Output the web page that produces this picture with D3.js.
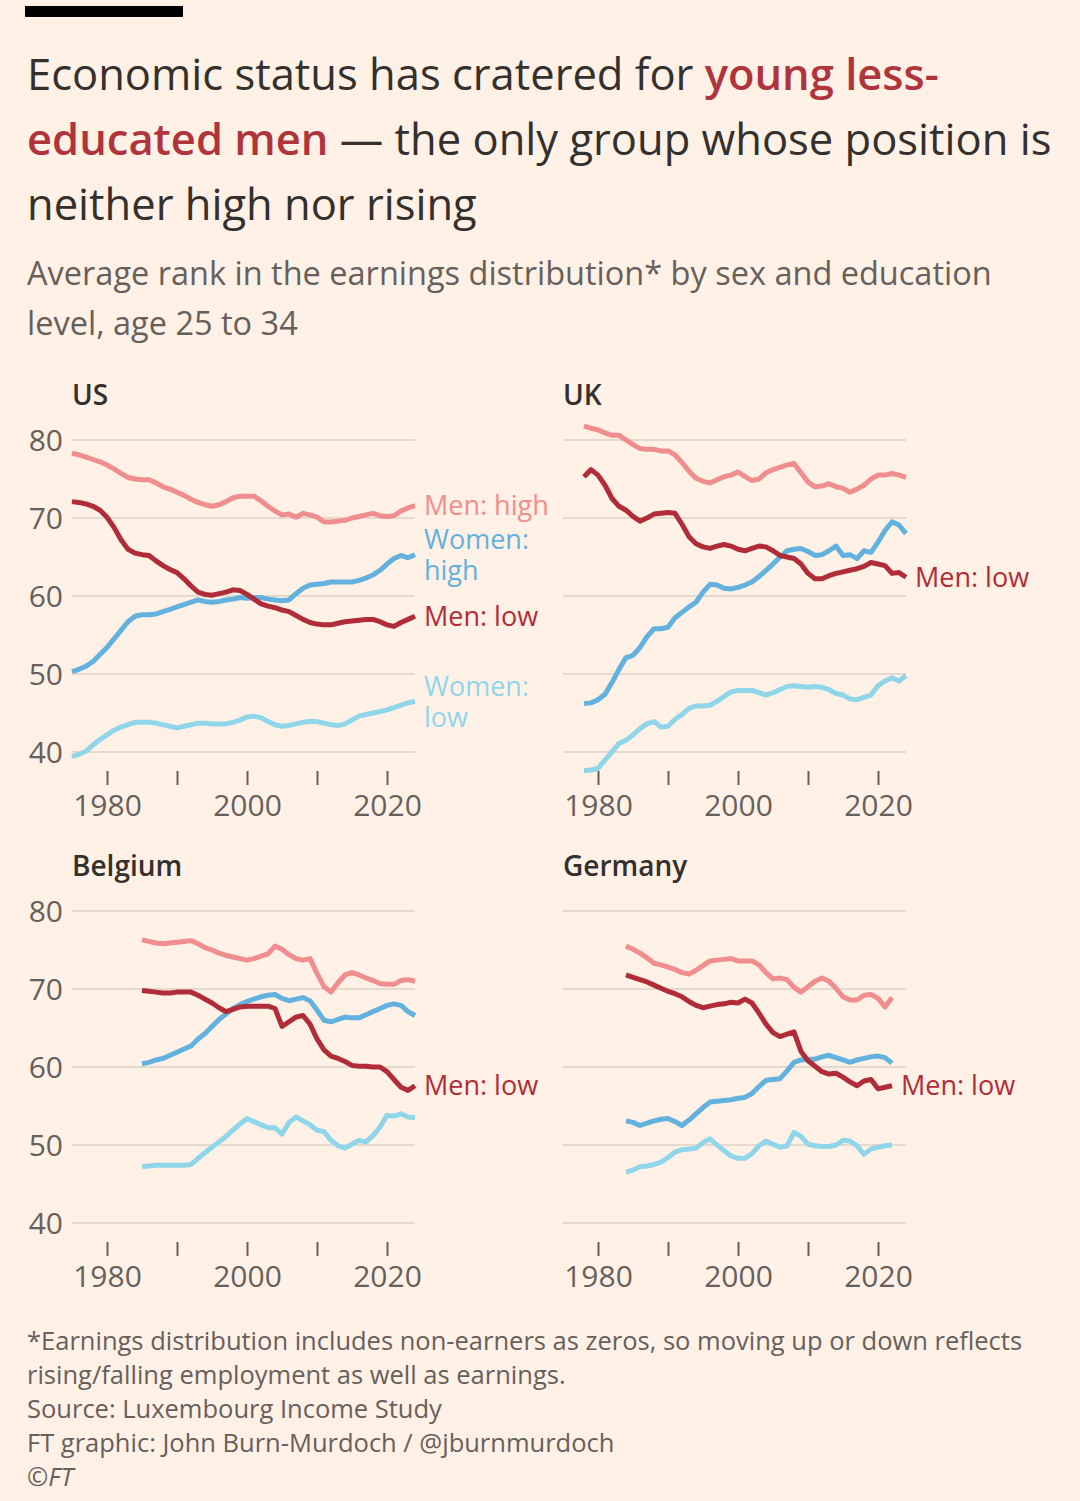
<!DOCTYPE html>
<html>
<head>
<meta charset="utf-8">
<script src="https://cdn.jsdelivr.net/npm/d3@7"></script>
<style>
  html, body { margin: 0; padding: 0; background: #FFF1E5; }
  svg { display: block; }
  text { font-family: "Open Sans", "Noto Sans", sans-serif; }
</style>
</head>
<body>
<div id="chart"></div>
<script>
// ---- data ----
const yTicks = [40, 50, 60, 70, 80];
const xTicks = [1980, 1990, 2000, 2010, 2020];
const xLabelled = [1980, 2000, 2020];

const usStart = 1975;
const usMenHigh = [78.3,78.1,77.8,77.5,77.2,76.8,76.3,75.7,75.2,75.0,74.9,74.9,74.5,74.0,73.7,73.3,72.9,72.4,72.0,71.7,71.5,71.7,72.1,72.6,72.8,72.8,72.8,72.2,71.5,70.9,70.4,70.5,70.1,70.6,70.4,70.1,69.5,69.5,69.6,69.7,70.0,70.2,70.4,70.6,70.3,70.2,70.3,70.9,71.3,71.6];
const usMenLow = [72.1,72.0,71.8,71.5,71.0,70.1,68.8,67.2,66.0,65.5,65.3,65.2,64.5,63.9,63.4,63.0,62.2,61.3,60.5,60.2,60.1,60.3,60.5,60.8,60.7,60.2,59.6,59.0,58.7,58.5,58.2,58.0,57.5,57.0,56.6,56.4,56.3,56.3,56.5,56.7,56.8,56.9,57.0,57.0,56.7,56.3,56.1,56.6,57.0,57.4];
const usWomenHigh = [50.3,50.6,51.0,51.6,52.5,53.4,54.5,55.6,56.7,57.4,57.6,57.6,57.7,58.0,58.3,58.6,58.9,59.2,59.5,59.3,59.2,59.3,59.5,59.6,59.8,59.7,59.8,59.8,59.6,59.5,59.4,59.5,60.3,61.0,61.4,61.5,61.6,61.8,61.8,61.8,61.8,62.0,62.3,62.7,63.3,64.1,64.8,65.2,64.9,65.3];
const usWomenLow = [39.4,39.7,40.1,40.9,41.6,42.2,42.8,43.2,43.5,43.8,43.8,43.8,43.7,43.5,43.3,43.1,43.3,43.5,43.7,43.7,43.6,43.6,43.6,43.8,44.1,44.5,44.6,44.4,43.9,43.5,43.3,43.4,43.6,43.8,43.9,43.9,43.7,43.5,43.4,43.6,44.1,44.6,44.8,45.0,45.2,45.4,45.7,46.0,46.3,46.5];

const ukStart = 1978;
const ukMenHigh = [81.8,81.5,81.3,80.9,80.6,80.6,80.0,79.4,78.9,78.8,78.8,78.6,78.6,78.1,77.1,76.0,75.1,74.7,74.5,74.9,75.3,75.5,75.9,75.3,74.8,75.0,75.8,76.2,76.5,76.8,77.0,75.8,74.6,74.0,74.1,74.4,74.0,73.8,73.3,73.7,74.2,75.0,75.5,75.5,75.7,75.5,75.2];
const ukMenLow = [75.3,76.2,75.5,74.2,72.5,71.5,71.0,70.2,69.6,70.0,70.5,70.6,70.7,70.6,69.2,67.6,66.7,66.3,66.1,66.4,66.6,66.4,66.0,65.8,66.1,66.4,66.3,65.8,65.2,65.0,64.8,64.1,62.9,62.2,62.2,62.6,62.9,63.1,63.3,63.5,63.8,64.3,64.1,63.9,62.9,63.0,62.4];
const ukWomenHigh = [46.2,46.3,46.7,47.4,48.9,50.6,52.1,52.4,53.4,54.8,55.8,55.8,56.0,57.2,57.9,58.6,59.2,60.5,61.5,61.4,61.0,60.9,61.1,61.4,61.8,62.5,63.3,64.1,65.0,65.8,66.0,66.1,65.7,65.2,65.3,65.8,66.4,65.2,65.3,64.8,65.8,65.6,66.9,68.4,69.5,69.1,68.0];
const ukWomenLow = [37.6,37.7,37.9,39.0,40.0,41.1,41.5,42.2,43.0,43.6,43.9,43.2,43.3,44.2,44.8,45.6,45.9,45.9,46.0,46.5,47.1,47.7,47.9,47.9,47.9,47.6,47.3,47.6,48.0,48.4,48.5,48.4,48.3,48.4,48.3,48.0,47.5,47.3,46.8,46.7,47.0,47.3,48.5,49.1,49.5,49.1,49.8];

const beStart = 1985;
const beMenHigh = [76.3,76.1,75.9,75.8,75.9,76.0,76.1,76.2,75.8,75.3,75.0,74.6,74.3,74.1,73.9,73.7,73.9,74.2,74.5,75.5,75.1,74.4,73.9,73.7,73.9,72.0,70.3,69.6,70.8,71.8,72.1,71.8,71.4,71.1,70.7,70.6,70.6,71.1,71.2,71.0];
const beMenLow = [69.8,69.7,69.6,69.5,69.5,69.6,69.6,69.6,69.2,68.7,68.2,67.6,67.1,67.4,67.7,67.8,67.8,67.8,67.8,67.5,65.2,65.8,66.4,66.6,65.5,63.6,62.2,61.4,61.1,60.7,60.2,60.1,60.1,60.0,60.0,59.4,58.4,57.4,57.0,57.6];
const beWomenHigh = [60.4,60.6,60.9,61.1,61.5,61.9,62.3,62.7,63.6,64.3,65.2,66.1,66.8,67.5,68.0,68.4,68.7,69.0,69.2,69.3,68.8,68.5,68.7,68.9,68.5,67.3,66.0,65.8,66.1,66.4,66.3,66.3,66.7,67.1,67.5,67.9,68.1,67.9,67.1,66.6];
const beWomenLow = [47.2,47.3,47.4,47.4,47.4,47.4,47.4,47.5,48.3,49.0,49.7,50.4,51.1,51.9,52.7,53.4,53.0,52.6,52.2,52.2,51.4,52.9,53.6,53.1,52.6,51.9,51.7,50.6,49.9,49.6,50.1,50.6,50.4,51.2,52.3,53.8,53.7,54.0,53.6,53.5];

const deStart = 1984;
const deMenHigh = [75.5,75.1,74.6,74.0,73.3,73.1,72.8,72.5,72.1,71.9,72.4,73.0,73.6,73.7,73.8,73.9,73.6,73.6,73.6,73.1,72.1,71.3,71.4,71.2,70.2,69.6,70.3,71.0,71.4,71.0,70.1,69.0,68.6,68.6,69.2,69.3,68.8,67.7,68.9];
const deMenLow = [71.8,71.5,71.2,70.9,70.5,70.1,69.7,69.4,69.0,68.4,67.9,67.6,67.8,68.0,68.1,68.3,68.2,68.7,68.2,66.9,65.5,64.4,63.9,64.2,64.5,62.0,60.8,60.1,59.4,59.1,59.2,58.7,58.1,57.6,58.2,58.4,57.2,57.4,57.6];
const deWomenHigh = [53.1,52.9,52.5,52.8,53.1,53.3,53.4,53.0,52.5,53.2,54.0,54.8,55.5,55.6,55.7,55.8,56.0,56.1,56.6,57.5,58.3,58.4,58.5,59.5,60.6,60.9,61.0,61.0,61.3,61.5,61.2,60.9,60.6,60.9,61.1,61.3,61.4,61.2,60.5];
const deWomenLow = [46.5,46.8,47.2,47.3,47.5,47.8,48.4,49.1,49.4,49.5,49.6,50.3,50.8,50.0,49.3,48.6,48.3,48.3,48.9,49.9,50.5,50.1,49.7,49.9,51.6,51.1,50.1,49.9,49.8,49.8,50.0,50.6,50.5,49.9,48.8,49.5,49.7,49.9,50.0];

const seriesStyle = {
  womenLow:  { color: "#8FD6EA", label: ["Women:", "low"] },
  womenHigh: { color: "#62B1DE", label: ["Women:", "high"] },
  menHigh:   { color: "#F08D8E", label: ["Men: high"] },
  menLow:    { color: "#B02C38", label: ["Men: low"] }
};

const countries = [
  { name: "US", start: usStart, series: { womenLow: usWomenLow, womenHigh: usWomenHigh, menHigh: usMenHigh, menLow: usMenLow }, labels: ["womenLow", "womenHigh", "menHigh", "menLow"], col: 0, row: 0 },
  { name: "UK", start: ukStart, series: { womenLow: ukWomenLow, womenHigh: ukWomenHigh, menHigh: ukMenHigh, menLow: ukMenLow }, labels: ["menLow"], col: 1, row: 0 },
  { name: "Belgium", start: beStart, series: { womenLow: beWomenLow, womenHigh: beWomenHigh, menHigh: beMenHigh, menLow: beMenLow }, labels: ["menLow"], col: 0, row: 1 },
  { name: "Germany", start: deStart, series: { womenLow: deWomenLow, womenHigh: deWomenHigh, menHigh: deMenHigh, menLow: deMenLow }, labels: ["menLow"], col: 1, row: 1 }
];

// ---- layout ----
const width = 1080, height = 1501;
const colLeft = [72, 563];
const plotW = 343;
const rowTop = [440, 911];
const plotH = 312;
const dark = "#33302E", grey = "#66605C", red = "#B0343C";

const svg = d3.select("#chart").append("svg")
  .attr("width", width).attr("height", height)
  .attr("viewBox", [0, 0, width, height]);

svg.append("rect").attr("width", width).attr("height", height).attr("fill", "#FFF1E5");

// FT bar
svg.append("rect").attr("x", 25).attr("y", 6).attr("width", 158).attr("height", 11).attr("fill", "#000");

// Title
const title = svg.append("text").attr("fill", dark).style("font-size", "43.5px");
const tl1 = title.append("tspan").attr("x", 27).attr("y", 90);
tl1.append("tspan").text("Economic status has cratered for ");
tl1.append("tspan").attr("fill", red).style("font-weight", 600).text("young less-");
const tl2 = title.append("tspan").attr("x", 27).attr("y", 155);
tl2.append("tspan").attr("fill", red).style("font-weight", 600).text("educated men");
tl2.append("tspan").text(" \u2014 the only group whose position is");
title.append("tspan").attr("x", 27).attr("y", 220).text("neither high nor rising");

// Subtitle
const sub = svg.append("text").attr("fill", grey).style("font-size", "32.5px");
sub.append("tspan").attr("x", 27).attr("y", 285).text("Average rank in the earnings distribution* by sex and education");
sub.append("tspan").attr("x", 27).attr("y", 335).text("level, age 25 to 34");

// Panels
countries.forEach(c => {
  const left = colLeft[c.col];
  const top = rowTop[c.row];

  const x = d3.scaleLinear().domain([1975, 2024]).range([left, left + plotW]);
  const y = d3.scaleLinear().domain([40, 80]).range([top + plotH, top]);

  const g = svg.append("g");

  // country name
  g.append("text")
    .attr("x", left).attr("y", top - 35)
    .attr("fill", dark)
    .style("font-size", "28px").style("font-weight", 600)
    .text(c.name);

  // gridlines
  g.append("g")
    .selectAll("line")
    .data(yTicks)
    .join("line")
    .attr("x1", x(1975)).attr("x2", x(2024))
    .attr("y1", d => y(d)).attr("y2", d => y(d))
    .attr("stroke", "#E6D9CE").attr("stroke-width", 2);

  // y labels on left column only
  if (c.col === 0) {
    g.append("g")
      .selectAll("text")
      .data(yTicks)
      .join("text")
      .attr("x", left - 9).attr("y", d => y(d))
      .attr("dy", "0.36em")
      .attr("text-anchor", "end")
      .attr("fill", grey)
      .style("font-size", "30px")
      .text(d => d);
  }

  // x axis
  const xAxis = g.append("g")
    .attr("transform", `translate(0, ${top + plotH + 19})`)
    .call(d3.axisBottom(x).tickValues(xTicks).tickSize(14).tickPadding(10)
      .tickFormat(d => xLabelled.includes(d) ? d : ""));
  xAxis.select(".domain").remove();
  xAxis.selectAll(".tick line").attr("stroke", grey).attr("stroke-width", 2);
  xAxis.selectAll(".tick text")
    .attr("fill", grey)
    .style("font-size", "30px")
    .style("font-family", "'Open Sans', 'Noto Sans', sans-serif");

  // lines
  const line = d3.line()
    .x((d, i) => x(c.start + i))
    .y(d => y(d))
    .curve(d3.curveLinear);

  ["womenLow", "womenHigh", "menHigh", "menLow"].forEach(k => {
    g.append("path")
      .datum(c.series[k])
      .attr("d", line)
      .attr("fill", "none")
      .attr("stroke", seriesStyle[k].color)
      .attr("stroke-width", 5)
      .attr("stroke-linejoin", "round")
      .attr("stroke-linecap", "butt");
  });

  // end labels (one text per line)
  c.labels.forEach(k => {
    const vals = c.series[k];
    const lastYear = c.start + vals.length - 1;
    const lines = seriesStyle[k].label;
    const lineH = 31;
    const cy = y(vals[vals.length - 1]);
    lines.forEach((s, i) => {
      g.append("text")
        .attr("x", x(lastYear) + 9)
        .attr("y", cy + (i - (lines.length - 1) / 2) * lineH)
        .attr("dy", "0.36em")
        .attr("fill", seriesStyle[k].color)
        .style("font-size", "27px")
        .style("font-weight", 500)
        .text(s);
    });
  });
});

// Footer
const notes = [
  "*Earnings distribution includes non-earners as zeros, so moving up or down reflects",
  "rising/falling employment as well as earnings.",
  "Source: Luxembourg Income Study",
  "FT graphic: John Burn-Murdoch / @jburnmurdoch"
];
svg.append("g")
  .selectAll("text")
  .data(notes)
  .join("text")
  .attr("x", 27).attr("y", (d, i) => 1350 + i * 34)
  .attr("fill", grey)
  .style("font-size", "25.5px")
  .text(d => d);
svg.append("text")
  .attr("x", 27).attr("y", 1486)
  .attr("fill", grey)
  .style("font-size", "25.5px")
  .style("font-style", "italic")
  .text("\u00A9FT");
</script>
</body>
</html>
